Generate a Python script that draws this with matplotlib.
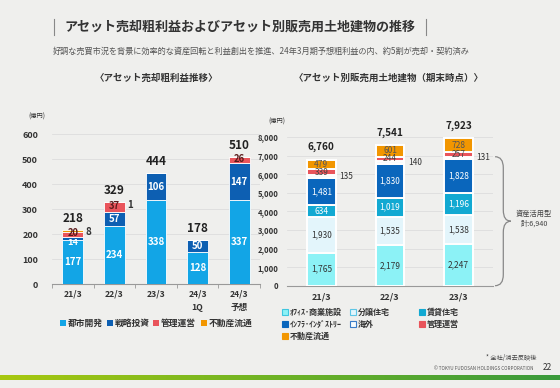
import numpy as np
import matplotlib
matplotlib.use('Agg')
import matplotlib.pyplot as plt
from matplotlib.patches import Rectangle, PathPatch
from matplotlib.path import Path
from matplotlib.colors import LinearSegmentedColormap
from matplotlib.ticker import FuncFormatter

plt.rcParams['font.family'] = ['Noto Sans CJK JP', 'DejaVu Sans']

# ---- left chart data (億円) ----
left_cats = ['21/3', '22/3', '23/3', '24/3\n1Q', '24/3\n予想']
left_names = ['都市開発', '戦略投資', '管理運営', '不動産流通']
left_vals = {
    '都市開発': [177, 234, 338, 128, 337],
    '戦略投資': [14, 57, 106, 50, 147],
    '管理運営': [20, 37, 0, 0, 26],
    '不動産流通': [8, 1, 0, 0, 0],
}
left_totals = [218, 329, 444, 178, 510]
left_colors = ['#12a5e6', '#0d5fb2', '#e9545b', '#f29600']

# ---- right chart data (億円) ----
right_cats = ['21/3', '22/3', '23/3']
right_names = ['ｵﾌｨｽ･商業施設', '分譲住宅', '賃貸住宅', 'ｲﾝﾌﾗ･ｲﾝﾀﾞｽﾄﾘｰ', '海外', '管理運営', '不動産流通']
right_vals = {
    'ｵﾌｨｽ･商業施設': [1765, 2179, 2247],
    '分譲住宅': [1930, 1535, 1538],
    '賃貸住宅': [634, 1019, 1196],
    'ｲﾝﾌﾗ･ｲﾝﾀﾞｽﾄﾘｰ': [1481, 1830, 1828],
    '海外': [135, 140, 131],
    '管理運営': [339, 244, 257],
    '不動産流通': [479, 601, 728],
}
right_totals = [6760, 7541, 7923]
right_fill = ['#8cf2f6', '#e3f5fb', '#12a9d2', '#0a66bc', '#f7fbfd', '#e9545b', '#f29600']
right_edge = ['#3fc6df', '#5ec6e6', '#ffffff', '#ffffff', '#3a7cc8', '#ffffff', '#ffffff']
right_text = ['#333333', '#333333', 'white', 'white', None, '#444444', '#555555']

bg = '#efefed'
fig = plt.figure(figsize=(5.6, 3.88), dpi=100, facecolor=bg)
W, H = 560.0, 388.0

def fx(px):
    return px / W

def fy(py):
    return 1 - py / H

# ---- header ----
fig.add_artist(plt.Line2D([fx(54), fx(54)], [fy(19), fy(35)], color='#888888', lw=0.8))
fig.add_artist(plt.Line2D([fx(426), fx(426)], [fy(19), fy(35)], color='#888888', lw=0.8))
fig.text(fx(240), fy(27), 'アセット売却粗利益およびアセット別販売用土地建物の推移',
         ha='center', va='center', fontsize=9.4, fontweight='bold', color='#333333')
fig.text(fx(53), fy(51), '好調な売買市況を背景に効率的な資産回転と利益創出を推進、24年3月期予想粗利益の内、約5割が売却・契約済み',
         ha='left', va='center', fontsize=5.9, color='#555555')
fig.text(fx(156), fy(78), '〈アセット売却粗利益推移〉', ha='center', va='center',
         fontsize=6.8, fontweight='bold', color='#333333')
fig.text(fx(389), fy(78), '〈アセット別販売用土地建物（期末時点）〉', ha='center', va='center',
         fontsize=6.8, fontweight='bold', color='#333333')

# ---- left chart ----
axl = fig.add_axes([fx(52), fy(284.3), fx(260) - fx(52), 175 / H])
axl.set_facecolor('none')
x = np.arange(len(left_cats))
bottom = np.zeros(len(left_cats))
seg_bottoms = {}
for name, col in zip(left_names, left_colors):
    v = np.array(left_vals[name], dtype=float)
    axl.bar(x, v, 0.5, bottom=bottom, color=col, edgecolor='white', linewidth=0.6, zorder=3)
    seg_bottoms[name] = bottom.copy()
    bottom = bottom + v

for i in range(len(left_cats)):
    v = left_vals['都市開発'][i]
    axl.text(x[i], v / 2, str(v), ha='center', va='center', color='white',
             fontsize=7, fontweight='bold', zorder=4)
    v2 = left_vals['戦略投資'][i]
    yb = seg_bottoms['戦略投資'][i]
    ty = yb + v2 / 2 if v2 > 30 else yb - 9
    axl.text(x[i], ty, str(v2), ha='center', va='center', color='white',
             fontsize=6.6 if v2 < 30 else 7, fontweight='bold', zorder=4)
    v3 = left_vals['管理運営'][i]
    if v3 > 0:
        axl.text(x[i], seg_bottoms['管理運営'][i] + v3 / 2 + 4, str(v3), ha='center', va='center',
                 color='#5a1a1a', fontsize=6.8, fontweight='bold', zorder=4)
    v4 = left_vals['不動産流通'][i]
    if v4 > 0:
        axl.text(x[i] + 0.3, bottom[i] - 10, str(v4), ha='left', va='center',
                 color='#333333', fontsize=7, fontweight='bold', zorder=4)
    axl.text(x[i], bottom[i] + 46, str(left_totals[i]), ha='center', va='center',
             color='#222222', fontsize=8.5, fontweight='bold', zorder=4)

axl.set_xlim(-0.5, len(left_cats) - 0.5)
axl.set_ylim(0, 700)
axl.set_yticks(range(0, 700, 100))
axl.set_yticklabels([str(t) for t in range(0, 700, 100)], fontsize=6.5, fontweight='bold', color='#333333')
axl.set_xticks(x)
axl.set_xticklabels(left_cats, fontsize=6.2, fontweight='bold', color='#333333', linespacing=1.6)
axl.set_xticks(np.arange(-0.5, len(left_cats)), minor=True)
axl.tick_params(axis='x', which='major', length=0, pad=4)
axl.tick_params(axis='x', which='minor', length=3, color='#999999', width=0.6)
axl.tick_params(axis='y', length=0, pad=10)
axl.grid(axis='y', color='#dddddd', lw=0.6, zorder=0)
for s in ['top', 'right', 'left']:
    axl.spines[s].set_visible(False)
axl.spines['bottom'].set_color('#999999')
axl.spines['bottom'].set_linewidth(0.8)
fig.text(fx(28), fy(117), '(億円)', ha='left', va='center', fontsize=4.5, color='#333333')

# left legend
lx = [63, 110, 156, 204]
for px, name, col in zip(lx, left_names, left_colors):
    fig.add_artist(Rectangle((fx(px - 3), fy(326)), fx(6), 6 / H, facecolor=col, edgecolor='none'))
    fig.text(fx(px + 5), fy(323), name, ha='left', va='center', fontsize=6.3,
             fontweight='bold', color='#333333')

# ---- right chart ----
axr = fig.add_axes([fx(287), fy(285.7), fx(493) - fx(287), 158 / H])
axr.set_facecolor('none')
xr = np.arange(len(right_cats))
bottom = np.zeros(len(right_cats))
for k, name in enumerate(right_names):
    v = np.array(right_vals[name], dtype=float)
    axr.bar(xr, v, 0.42, bottom=bottom, color=right_fill[k], edgecolor='white', linewidth=1.4, zorder=3)
    for i in range(len(right_cats)):
        if name == '海外':
            axr.text(xr[i] + 0.26, bottom[i] + v[i] / 2, str(int(v[i])), ha='left', va='center',
                     fontsize=6, color='#333333', zorder=4)
        else:
            axr.text(xr[i], bottom[i] + v[i] / 2, f'{int(v[i]):,}', ha='center', va='center',
                     fontsize=6, color=right_text[k], zorder=4)
    bottom = bottom + v

for i in range(len(right_cats)):
    axr.text(xr[i], bottom[i] + 700, f'{right_totals[i]:,}', ha='center', va='center',
             fontsize=7.2, fontweight='bold', color='#222222', zorder=4)

axr.set_xlim(-0.5, len(right_cats) - 0.5)
axr.set_ylim(0, 8500)
axr.set_yticks(range(0, 9000, 1000))
axr.yaxis.set_major_formatter(FuncFormatter(lambda v, p: f'{int(v):,}'))
axr.tick_params(axis='y', length=0, pad=6, labelsize=5.5, labelcolor='#333333')
for lab in axr.get_yticklabels():
    lab.set_fontweight('bold')
axr.set_xticks(xr)
axr.set_xticklabels(right_cats, fontsize=6.5, fontweight='bold', color='#333333')
axr.tick_params(axis='x', length=0, pad=5)
axr.grid(axis='y', color='#dddddd', lw=0.6, zorder=0)
for s in ['top', 'right', 'left']:
    axr.spines[s].set_visible(False)
axr.spines['bottom'].set_color('#999999')
axr.spines['bottom'].set_linewidth(0.8)
fig.text(fx(268), fy(122), '(億円)', ha='left', va='center', fontsize=4.5, color='#333333')

# brace for 資産活用型
top = sum(right_vals[n][2] for n in right_names[:5])
mid = top / 2
x0, x1, x2 = 2.53, 2.65, 2.76
verts = [(x0, top), (x1, top), (x1, top - 600), (x1, mid + 600), (x1, mid), (x2, mid),
         (x1, mid), (x1, mid - 600), (x1, 600), (x1, 0), (x0, 0)]
codes = [Path.MOVETO, Path.CURVE3, Path.CURVE3, Path.LINETO, Path.CURVE3, Path.CURVE3,
         Path.CURVE3, Path.CURVE3, Path.LINETO, Path.CURVE3, Path.CURVE3]
axr.add_patch(PathPatch(Path(verts, codes), facecolor='none', edgecolor='#888888',
                        lw=0.9, clip_on=False))
fig.text(fx(534), fy(214), '資産活用型', ha='center', va='center', fontsize=5.2, color='#444444')
fig.text(fx(534), fy(224), f'計:{top:,}', ha='center', va='center', fontsize=5.2, color='#444444')

# right legend (3 columns)
cols_x = [284.5, 353, 422]
rows_y = [312, 324, 336]
for k, name in enumerate(right_names):
    px = cols_x[k % 3]
    py = rows_y[k // 3]
    ec = right_edge[k] if right_edge[k] != '#ffffff' else right_fill[k]
    fig.add_artist(Rectangle((fx(px - 3), fy(py + 3)), fx(6), 6 / H, facecolor=right_fill[k],
                             edgecolor=ec, lw=0.8))
    fig.text(fx(px + 5), fy(py), name, ha='left', va='center', fontsize=5.8,
             fontweight='bold', color='#333333')

# ---- footer ----
fig.text(fx(537), fy(358), '* 全社/消去反映後', ha='right', va='center', fontsize=4.5, color='#444444')
fig.text(fx(533), fy(368), '© TOKYU FUDOSAN HOLDINGS CORPORATION', ha='right', va='center',
         fontsize=3.3, color='#555555')
fig.text(fx(543), fy(368), '22', ha='left', va='center', fontsize=6, color='#333333')

axg = fig.add_axes([0, fy(380), 1, 5 / H])
cmap = LinearSegmentedColormap.from_list('g', ['#a8c810', '#6db225', '#3a9a3c'])
axg.imshow(np.linspace(0, 1, 256)[None, :], aspect='auto', cmap=cmap)
axg.axis('off')

fig.savefig('out.png', dpi=100, facecolor=bg)
